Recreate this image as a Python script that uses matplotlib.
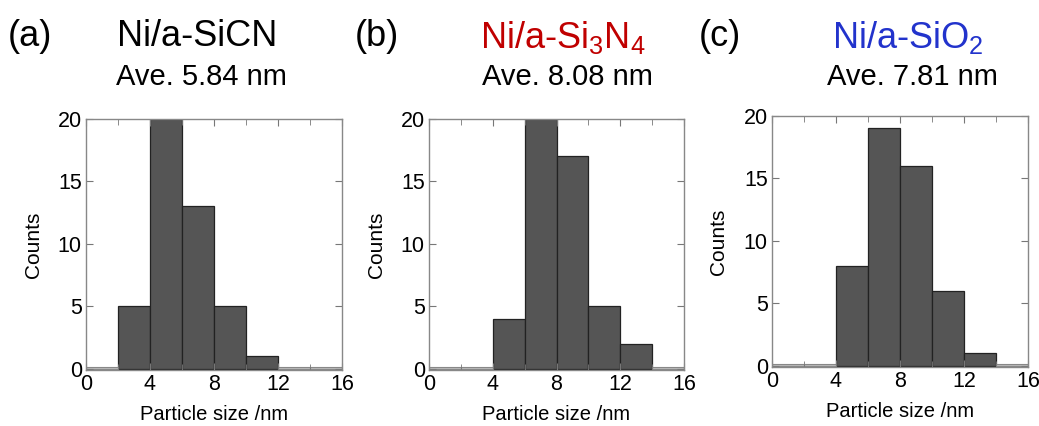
import numpy as np
import matplotlib
matplotlib.use("Agg")
import matplotlib.pyplot as plt

plt.rcParams["font.family"] = ["Liberation Sans", "DejaVu Sans"]
plt.rcParams["mathtext.fontset"] = "custom"
plt.rcParams["mathtext.rm"] = "Liberation Sans"

# histogram data: 2 nm bins from 0 to 16 nm
bin_edges = [0, 2, 4, 6, 8, 10, 12, 14, 16]
counts_sicn = [0, 5, 20, 13, 5, 1, 0, 0]
counts_si3n4 = [0, 0, 4, 20, 17, 5, 2, 0]
counts_sio2 = [0, 0, 8, 19, 16, 6, 1, 0]

panel_letters = ["(a)", "(b)", "(c)"]
sample_names = ["Ni/a-SiCN", r"Ni/a-Si$_\mathregular{3}$N$_\mathregular{4}$",
                r"Ni/a-SiO$_\mathregular{2}$"]
averages = ["Ave. 5.84 nm", "Ave. 8.08 nm", "Ave. 7.81 nm"]
name_colors = ["black", "#c00000", "#2233cc"]

W, H = 1039, 426
fig = plt.figure(figsize=(W / 100, H / 100), dpi=100)

# axes boxes in pixels: left, top, right, bottom
boxes = [(86, 119, 342, 370), (429, 119, 684, 370), (772, 116, 1028, 367)]
letter_x = [8, 355, 699]
name_x = [197, 563, 908]
ylabel_x = [43, 386, 728]

for i, counts in enumerate([counts_sicn, counts_si3n4, counts_sio2]):
    l, t, r, b = boxes[i]
    ax = fig.add_axes([l / W, 1 - b / H, (r - l) / W, (b - t) / H])
    edges = np.array(bin_edges)
    ax.bar(edges[:-1], counts, width=np.diff(edges), align="edge",
           color="#555555", edgecolor="#222222", linewidth=0.9)
    zero = np.array(counts) == 0
    ax.bar(edges[:-1][zero], np.full(zero.sum(), 0.12), width=2, align="edge",
           color="#bbbbbb", edgecolor="#888888", linewidth=0.8)
    ax.set_xlim(0, 16)
    ax.set_ylim(-0.12, 20)
    ax.set_xticks([0, 4, 8, 12, 16])
    ax.set_xticks([2, 6, 10, 14], minor=True)
    ax.set_yticks([0, 5, 10, 15, 20])
    ax.tick_params(which="both", direction="in", top=True, right=True,
                   color="#777777", labelsize=15.5, pad=3)
    ax.tick_params(which="major", length=5)
    ax.tick_params(which="minor", length=4)
    for s in ax.spines.values():
        s.set_color("#888888")
        s.set_linewidth(1.0)
    ax.set_xlabel("Particle size /nm", fontsize=14.5, labelpad=7)
    ax.set_ylabel("Counts", fontsize=15)
    ax.yaxis.set_label_coords((ylabel_x[i] - l) / (r - l), 0.5)

    fig.text(letter_x[i] / W, 1 - 36 / H, panel_letters[i], fontsize=26,
             ha="left", va="center")
    fig.text(name_x[i] / W, 1 - 37 / H, sample_names[i], fontsize=26,
             ha="center", va="center", color=name_colors[i])
    fig.text(name_x[i] / W + 0.004, 1 - 77 / H, averages[i], fontsize=21,
             ha="center", va="center")

fig.savefig("out.png", dpi=100)
